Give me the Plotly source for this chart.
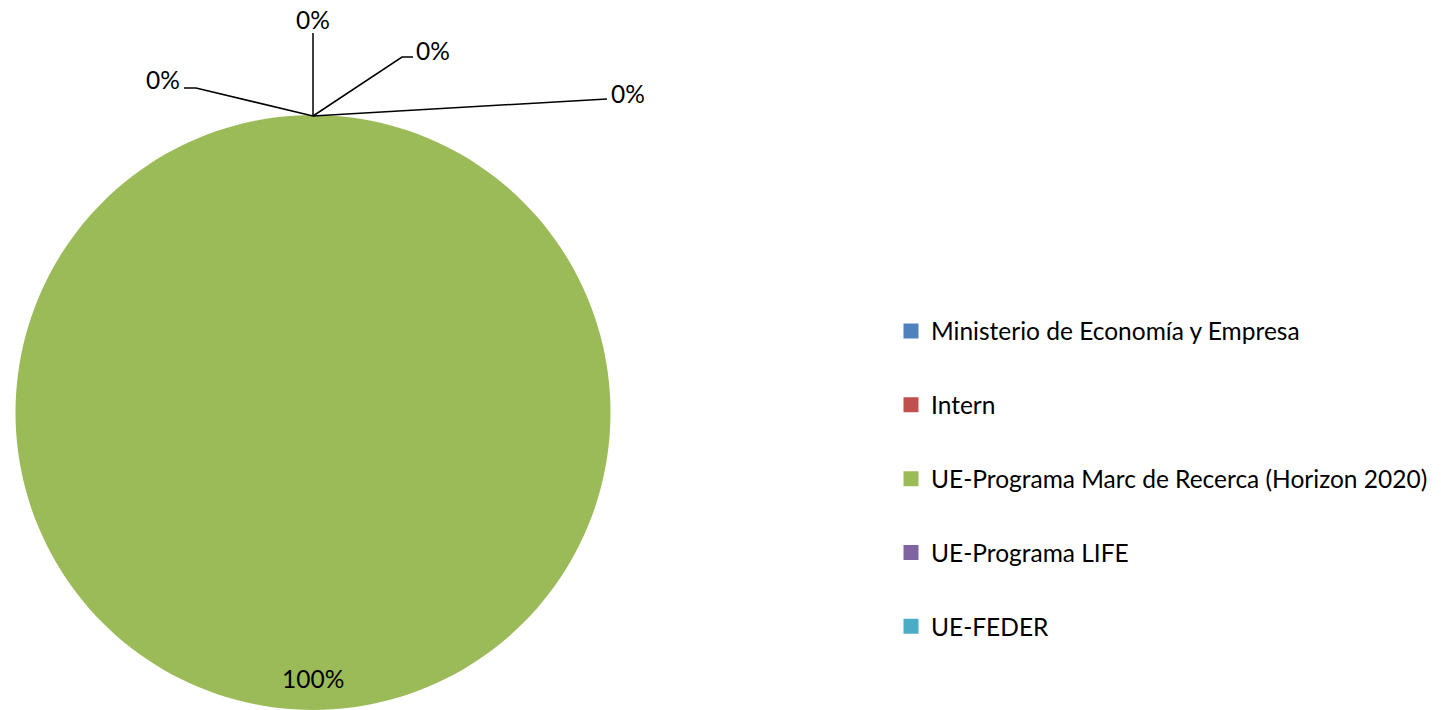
import plotly.graph_objects as go

categories = ["Ministerio de Economía y Empresa", "Intern",
              "UE-Programa Marc de Recerca (Horizon 2020)",
              "UE-Programa LIFE", "UE-FEDER"]
values = [0.0004, 0.0004, 99.9984, 0.0004, 0.0004]
pct_labels = ["0%", "0%", "100%", "0%", "0%"]
colors = ["#4F81BD", "#C0504D", "#9BBB59", "#8064A2", "#4BACC6"]

W, H = 1441, 710
FONT = "Lato"
FS = 24.5

# pie geometry in pixels
cx, top, r = 313, 115, 297.5
def px(x):
    return x / W
def py(y):
    return 1 - y / H

fig = go.Figure()
fig.add_trace(go.Pie(
    labels=categories, values=values, marker=dict(colors=colors, line=dict(width=0)),
    sort=False, direction="clockwise", rotation=0, textinfo="none",
    hoverinfo="label+percent", showlegend=False,
    domain=dict(x=[px(cx - r), px(cx + r)], y=[0, py(top)]),
))

# legend entries
for i, (c, col) in enumerate(zip(categories, colors)):
    fig.add_trace(go.Scatter(
        x=[None], y=[None], mode="markers", name=c, legendgroup=str(i),
        marker=dict(symbol="square", size=15, color=col),
    ))

# leader lines and labels (pie top point -> label)
tip = (cx, top + 1)
leaders = [
    ([(313, 33)], (313, 20), 0),
    ([(402, 57), (413, 57)], (433, 50), 1),
    ([(607, 99)], (628, 93), 4),
    ([(196, 88), (184, 88)], (163, 80), 3),
]
for pts, (lx, ly), idx in leaders:
    path = "M {} {}".format(px(tip[0]), py(tip[1]))
    for (x, y) in pts:
        path += " L {} {}".format(px(x), py(y))
    fig.add_shape(type="path", path=path, xref="paper", yref="paper",
                  line=dict(color="black", width=1.5))
    fig.add_annotation(x=px(lx), y=py(ly), xref="paper", yref="paper",
                       xanchor="center", yanchor="middle",
                       text=pct_labels[idx], showarrow=False,
                       font=dict(family=FONT, size=FS, color="black"))

fig.add_annotation(x=px(313), y=py(678), xref="paper", yref="paper",
                   xanchor="center", yanchor="middle",
                   text=pct_labels[2], showarrow=False,
                   font=dict(family=FONT, size=FS, color="black"))

fig.update_layout(
    width=W, height=H, margin=dict(l=0, r=0, t=0, b=0),
    paper_bgcolor="white", plot_bgcolor="white",
    xaxis=dict(visible=False), yaxis=dict(visible=False),
    font=dict(family=FONT, size=FS, color="black"),
    legend=dict(x=px(891), y=py(479), xanchor="left", yanchor="middle",
                tracegroupgap=39, font=dict(family=FONT, size=FS),
                bgcolor="rgba(0,0,0,0)"),
)
fig.write_html("out.html", config={"displayModeBar": False},
               post_script="document.body.style.margin='0';")
